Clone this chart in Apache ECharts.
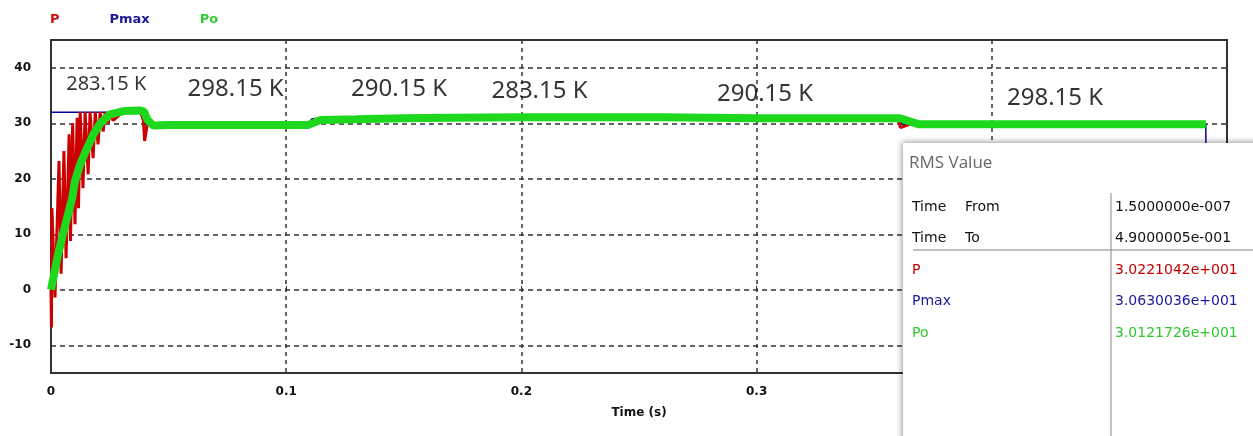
<!DOCTYPE html>
<html>
<head>
<meta charset="utf-8">
<title>P / Pmax / Po</title>
<script src="https://cdn.jsdelivr.net/npm/echarts@6/dist/echarts.min.js"></script>
<style>
  html, body { margin: 0; padding: 0; background: #fff; }
  #chart { width: 1253px; height: 436px; }
</style>
</head>
<body>
<div id="chart"></div>
<script>

// P (red)
var pTime = [0, 0.0002, 0.0004, 0.0017, 0.0034, 0.0043, 0.0055, 0.0064, 0.0077, 0.0083,
             0.0092, 0.0102, 0.0111, 0.0117, 0.0124, 0.0136, 0.0145, 0.0158, 0.0166, 0.0179,
             0.0188, 0.0200, 0.0209, 0.0222, 0.0230, 0.0243, 0.0252, 0.0264, 0.030, 0.038,
             0.0393, 0.0398, 0.041, 0.045, 0.109, 0.112, 0.2, 0.36, 0.3612, 0.3618, 0.365, 0.491];
var pVal  = [0, -6.8, 14.7, -1.4, 23.2, 2.9, 25, 5.7, 28, 8.8,
             30, 11.8, 31, 14.7, 32, 18.3, 32, 20.8, 32, 23.7,
             32, 26.2, 32, 28.5, 32, 30, 32, 30.5, 31.8, 32.1,
             30.5, 26.8, 30, 29.7, 29.7, 30.7, 31, 30.9, 29.2, 29.5, 29.8, 29.8];

// Pmax (blue)
var pmaxTime = [0, 0.0399, 0.0401, 0.109, 0.111, 0.36, 0.362, 0.491, 0.4911];
var pmaxVal  = [32, 32, 29.8, 29.8, 30.8, 31, 29.8, 29.8, 0];

// Po (green)
var poTime = [0, 0.001, 0.003, 0.0047, 0.0068, 0.009, 0.0102, 0.0124, 0.0153, 0.018,
              0.021, 0.025, 0.031, 0.038, 0.0395, 0.041, 0.0435, 0.05, 0.08, 0.1095,
              0.1147, 0.13, 0.15, 0.17, 0.2, 0.23, 0.26, 0.3, 0.33, 0.361,
              0.369, 0.4, 0.45, 0.491];
var poVal  = [0, 2.1, 6.4, 9.3, 12.9, 16.5, 19.6, 22.6, 25.5, 28,
              30, 31.6, 32.2, 32.3, 32.1, 30.6, 29.6, 29.7, 29.7, 29.7,
              30.6, 30.7, 30.9, 31, 31.1, 31.1, 31.1, 30.9, 30.9, 30.9,
              29.8, 29.8, 29.8, 29.8];

// temperature notes
var tempLabels = ['283.15 K', '298.15 K', '290.15 K', '283.15 K', '290.15 K', '298.15 K'];
var tempTimes  = [0.0235, 0.0785, 0.148, 0.2077, 0.3036, 0.4269];
var tempLevels = [37.0, 36.1, 36.1, 35.7, 35.2, 34.5];

// RMS box
var rmsNames  = ['Time', 'Time', 'P', 'Pmax', 'Po'];
var rmsSub    = ['From', 'To', '', '', ''];
var rmsValues = ['1.5000000e-007', '4.9000005e-001', '3.0221042e+001', '3.0630036e+001', '3.0121726e+001'];

var colP = '#cc0000', colPmax = '#000099', colPo = '#1ed81e';

function zip(t, v){
    var out = [];
    for (var i = 0; i < t.length; i++) out.push([t[i], v[i]]);
    return out;
}

var notes = [];
for (var i = 0; i < tempLabels.length; i++) {
    notes.push({
        value: [tempTimes[i], tempLevels[i]],
        label: { formatter: tempLabels[i], fontSize: i === 0 ? 20 : 24 }
    });
}

var rowColors = ['#111', '#111', '#c00000', '#1a1a9a', '#2ec82e'];
var boxEls = [
    {
        type: 'rect', z: 100,
        shape: { x: 903, y: 143, width: 370, height: 310 },
        style: { fill: '#fff', shadowBlur: 6, shadowColor: 'rgba(0,0,0,0.4)', shadowOffsetX: -1, shadowOffsetY: -1 }
    },
    {
        type: 'text', z: 101, x: 909, y: 163,
        style: { text: 'RMS Value', fill: '#666', font: '17px "Open Sans"', verticalAlign: 'middle' }
    },
    {
        type: 'line', z: 101, shape: { x1: 913, y1: 250, x2: 1253, y2: 250 },
        style: { stroke: '#aaa', lineWidth: 1.5 }
    },
    {
        type: 'line', z: 101, shape: { x1: 1111, y1: 193, x2: 1111, y2: 436 },
        style: { stroke: '#999', lineWidth: 1.2 }
    }
];
for (var r = 0; r < rmsNames.length; r++) {
    var y = 207 + r * 31.6;
    var w = r < 2 ? '500 ' : '';
    boxEls.push({ type: 'text', z: 101, x: 912, y: y,
        style: { text: rmsNames[r], fill: rowColors[r], font: w + '14px "DejaVu Sans"', verticalAlign: 'middle' } });
    if (rmsSub[r]) {
        boxEls.push({ type: 'text', z: 101, x: 965, y: y,
            style: { text: rmsSub[r], fill: rowColors[r], font: w + '14px "DejaVu Sans"', verticalAlign: 'middle' } });
    }
    boxEls.push({ type: 'text', z: 101, x: 1115, y: y,
        style: { text: rmsValues[r], fill: rowColors[r], font: '14px "DejaVu Sans"', verticalAlign: 'middle' } });
}

echarts.init(document.getElementById('chart')).setOption({
    animation: false,
    grid: {
        left: 51,
        top: 40,
        width: 1176,
        height: 333,
        show: true,
        borderColor: '#333',
        borderWidth: 2
    },
    legend: {
        left: 39,
        top: 8,
        itemWidth: 0,
        itemHeight: 0,
        itemGap: 44,
        textStyle: { fontFamily: 'DejaVu Sans', fontWeight: 'bold', fontSize: 13 },
        data: [
            { name: 'P', textStyle: { color: '#cc1111' } },
            { name: 'Pmax', textStyle: { color: '#1a1a99' } },
            { name: 'Po', textStyle: { color: '#33cc33' } }
        ]
    },
    xAxis: {
        type: 'value',
        min: 0,
        max: 0.5,
        interval: 0.1,
        name: 'Time (s)',
        nameLocation: 'middle',
        nameGap: 34,
        nameTextStyle: { fontFamily: 'DejaVu Sans', fontWeight: 'bold', fontSize: 12, color: '#111' },
        axisLine: { show: false },
        axisTick: { show: true, inside: true, length: 4, lineStyle: { color: '#333' } },
        axisLabel: { margin: 13, fontFamily: 'DejaVu Sans', fontWeight: 'bold', fontSize: 12, color: '#111' },
        splitLine: { show: true, lineStyle: { color: '#333', type: [4, 4], width: 1.5 } }
    },
    yAxis: {
        type: 'value',
        min: -15,
        max: 45,
        axisLine: { show: false },
        axisTick: { show: false },
        axisLabel: {
            margin: 20,
            showMinLabel: false,
            showMaxLabel: false,
            fontFamily: 'DejaVu Sans', fontWeight: 'bold', fontSize: 12, color: '#111'
        },
        splitLine: { show: true, lineStyle: { color: '#333', type: [5, 4], width: 1.5 } }
    },
    series: [
        {
            name: 'Pmax',
            type: 'line',
            showSymbol: false,
            data: zip(pmaxTime, pmaxVal),
            color: colPmax,
            lineStyle: { width: 1.5 },
            z: 2
        },
        {
            name: 'P',
            type: 'line',
            showSymbol: false,
            data: zip(pTime, pVal),
            color: colP,
            lineStyle: { width: 3 },
            z: 3
        },
        {
            name: 'Po',
            type: 'line',
            showSymbol: false,
            data: zip(poTime, poVal),
            color: colPo,
            lineStyle: { width: 8 },
            z: 4
        },
        {
            name: 'notes',
            type: 'scatter',
            symbol: 'circle',
            symbolSize: 1,
            itemStyle: { color: 'rgba(0,0,0,0)' },
            label: {
                show: true,
                position: 'inside',
                color: '#000',
                textBorderWidth: 0,
                fontFamily: 'Noto Sans'
            },
            data: notes,
            z: 5
        }
    ],
    graphic: boxEls
});

</script>
</body>
</html>
